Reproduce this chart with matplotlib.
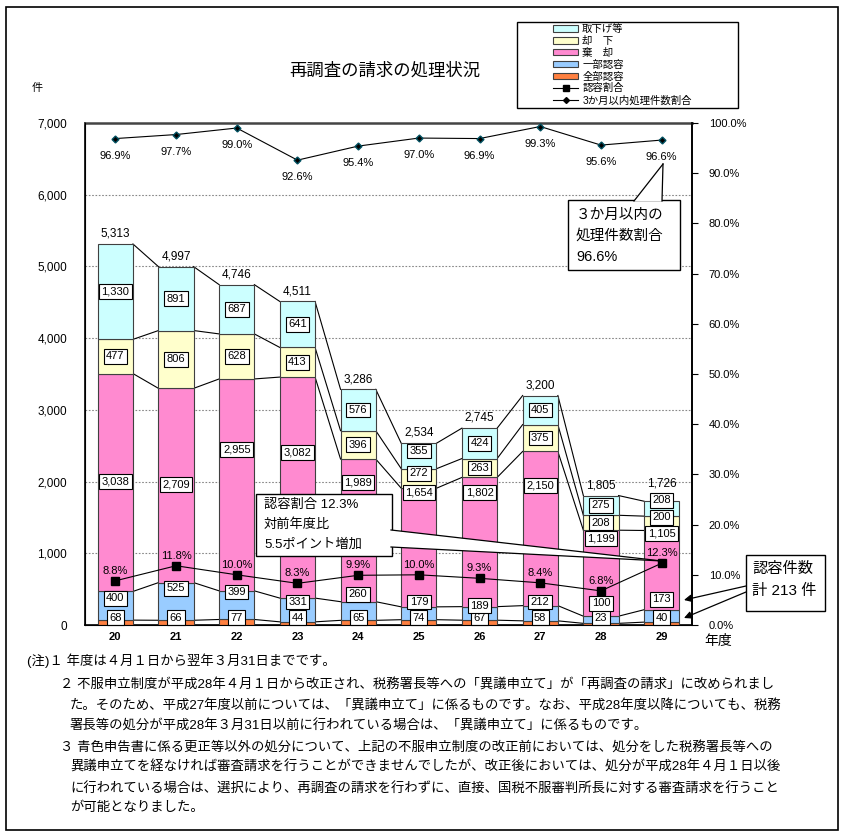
import matplotlib
matplotlib.use("Agg")
import matplotlib.pyplot as plt
from matplotlib.patches import Patch, Rectangle, Polygon, FancyArrowPatch
from matplotlib.lines import Line2D
import numpy as np

plt.rcParams['font.family'] = ['Liberation Sans', 'Noto Sans CJK JP', 'DejaVu Sans']

# data (件数は年度別)
years = ['20', '21', '22', '23', '24', '25', '26', '27', '28', '29']
zenbu = [68, 66, 77, 44, 65, 74, 67, 58, 23, 40]            # 全部認容
ichibu = [400, 525, 399, 331, 260, 179, 189, 212, 100, 173]  # 一部認容
kikyaku = [3038, 2709, 2955, 3082, 1989, 1654, 1802, 2150, 1199, 1105]  # 棄却
kyakka = [477, 806, 628, 413, 396, 272, 263, 375, 208, 200]  # 却下
torisage = [1330, 891, 687, 641, 576, 355, 424, 405, 275, 208]  # 取下げ等
totals = [5313, 4997, 4746, 4511, 3286, 2534, 2745, 3200, 1805, 1726]
ninyo_rate = [8.8, 11.8, 10.0, 8.3, 9.9, 10.0, 9.3, 8.4, 6.8, 12.3]
within3m_rate = [96.9, 97.7, 99.0, 92.6, 95.4, 97.0, 96.9, 99.3, 95.6, 96.6]

series = [
    ('全部認容', zenbu, '#FF8040'),
    ('一部認容', ichibu, '#99CCFF'),
    ('棄　却', kikyaku, '#FF8AD0'),
    ('却　下', kyakka, '#FFFFCC'),
    ('取下げ等', torisage, '#CCFFFF'),
]

# label placement (value units), hand tuned like the original
ichibu_lab_y = [370, 510, 460, 320, 430, 320, 270, 320, 300, 360]
kikyaku_lab_y = [2000, 1960, 2450, 2410, 1990, 1850, 1850, 1940, 1210, 1270]
extra_shift = {(3, 5): 75, (4, 5): 70, (3, 9): 85, (4, 9): 115}
total_shift = {9: 110}

W, H = 848, 834


def px(x, y):
    return (x / W, 1 - y / H)


fig = plt.figure(figsize=(W / 100, H / 100), dpi=100)
ax = fig.add_axes([85 / W, 1 - 625 / H, 607 / W, 502 / H])
ax2 = ax.twinx()

x = np.arange(len(years))
bw = 0.58
bottom = np.zeros(len(years))
levels = []
for k, (name, vals, col) in enumerate(series):
    vals = np.array(vals)
    ax.bar(x, vals, bw, bottom=bottom, color=col, edgecolor='#404040',
           linewidth=0.8, zorder=3)
    centers = bottom + vals / 2
    for i, v in enumerate(vals):
        if k == 0:
            ly = 100
        elif k == 1:
            ly = ichibu_lab_y[i]
        elif k == 2:
            ly = kikyaku_lab_y[i]
        else:
            ly = centers[i] + extra_shift.get((k, i), 0)
        ax.text(i, ly, f'{v:,}', ha='center', va='center', fontsize=8,
                zorder=6,
                bbox=dict(boxstyle='square,pad=0.22', fc='white', ec='black', lw=0.8))
    bottom = bottom + vals
    levels.append(bottom.copy())

# series lines between the bars
for lev in levels:
    for i in range(len(years) - 1):
        ax.plot([i + bw / 2, i + 1 - bw / 2], [lev[i], lev[i + 1]],
                color='black', lw=0.8, zorder=2)

for i, t in enumerate(totals):
    ax.text(i, t + 60 + total_shift.get(i, 0), f'{t:,}', ha='center', va='bottom',
            fontsize=8.5, zorder=7)

ax.set_xlim(-0.5, len(years) - 0.5)
ax.set_ylim(0, 7000)
ax.set_yticks(range(0, 7001, 1000))
ax.set_yticklabels([f'{v:,}' for v in range(0, 7001, 1000)], fontsize=8.5)
ax.set_xticks(x)
ax.set_xticklabels(years, fontsize=8, fontweight='bold')
ax.tick_params(axis='y', length=0, pad=13)
ax.tick_params(axis='x', length=0, pad=5)
for g in range(1000, 7000, 1000):
    ax.axhline(g, color='#888888', lw=0.8, ls=(0, (1.5, 1.5)), zorder=1)
ax.spines['top'].set_color('#444444')
ax.spines['top'].set_linewidth(1.8)
for s in ['left', 'right', 'bottom']:
    ax.spines[s].set_linewidth(1.2)

# percent lines on the right axis
ax2.set_ylim(0, 100)
ax2.set_yticks(range(0, 101, 10))
ax2.set_yticklabels([f'{v:.1f}%' for v in range(0, 101, 10)], fontsize=8)
ax2.tick_params(axis='y', length=4, pad=8)
ax2.spines['right'].set_linewidth(1.2)
ax2.spines['top'].set_visible(False)

ax2.plot(x, ninyo_rate, color='black', lw=0.8, marker='s', markersize=5.5,
         markerfacecolor='black', zorder=5)
for i, r in enumerate(ninyo_rate):
    ax2.text(i, r + 1.0, f'{r:.1f}%', ha='center', va='bottom', fontsize=8, zorder=5)

ax2.plot(x, within3m_rate, color='black', lw=0.8, marker='D', markersize=3.5,
         markerfacecolor='black', markeredgecolor='#005060', zorder=5)
for i, r in enumerate(within3m_rate):
    ax2.text(i, r - 2.4, f'{r:.1f}%', ha='center', va='top', fontsize=8, zorder=5)

# title, units
fig.text(*px(385, 70), '再調査の請求の処理状況', ha='center', va='center', fontsize=12.5)
fig.text(*px(37, 88), '件', ha='center', va='center', fontsize=8)
fig.text(*px(718, 641), '年度', ha='center', va='center', fontsize=10)

# legend
fig.add_artist(Rectangle(px(517, 108), 221 / W, 86 / H, transform=fig.transFigure,
                         fill=False, ec='black', lw=1.0))
handles = [Patch(fc=c, ec='#404040', lw=0.8) for _, _, c in series[::-1]]
handles += [Line2D([], [], color='black', lw=0.8, marker='s', markersize=4.5),
            Line2D([], [], color='black', lw=0.8, marker='D', markersize=3)]
labels = [n for n, _, _ in series[::-1]] + ['認容割合', '3か月以内処理件数割合']
fig.legend(handles, labels, loc='upper left', bbox_to_anchor=px(553, 24),
           frameon=False, fontsize=7.5, labelspacing=0.18, handlelength=2.4,
           handleheight=0.6, handletextpad=0.4, borderpad=0, borderaxespad=0)


def callout(box, base, tip, lines, fs, x_text, y_lines):
    x0, y0, x1, y1 = box
    fig.add_artist(Rectangle(px(x0, y1), (x1 - x0) / W, (y1 - y0) / H,
                             transform=fig.transFigure, fc='white', ec='black',
                             lw=1.0, zorder=10))
    (bx1, by1), (bx2, by2) = base
    fig.add_artist(Polygon([px(bx1, by1), px(bx2, by2), px(*tip)], closed=True,
                           transform=fig.transFigure, fc='white', ec='none', zorder=11))
    for bxy in base:
        fig.add_artist(Line2D([px(*bxy)[0], px(*tip)[0]], [px(*bxy)[1], px(*tip)[1]],
                              transform=fig.transFigure, color='black', lw=0.9, zorder=12))
    for t, yy in zip(lines, y_lines):
        fig.text(*px(x_text, yy), t, ha='left', va='center', fontsize=fs, zorder=13)


callout((568, 200, 680, 270), [(634, 201), (662, 201)], (663, 164),
        ['３か月以内の', '処理件数割合', '96.6%'], 10.5, 576, [215, 236, 257])
callout((256, 494, 392, 556), [(391, 530), (391, 547)], (662, 561),
        ['認容割合 12.3%', '対前年度比', '5.5ポイント増加'], 9.5, 264, [505, 525, 545])

fig.add_artist(Rectangle(px(746, 611), 79 / W, 56 / H, transform=fig.transFigure,
                         fc='white', ec='black', lw=1.0, zorder=10))
fig.text(*px(752, 569), '認容件数', ha='left', va='center', fontsize=11, zorder=13)
fig.text(*px(752, 591), '計 213 件', ha='left', va='center', fontsize=11, zorder=13)
for a, b in [((746, 586), (684, 600)), ((746, 592), (684, 618))]:
    fig.add_artist(FancyArrowPatch(px(*a), px(*b), transform=fig.transFigure,
                                   arrowstyle='-|>', mutation_scale=11, color='black',
                                   lw=0.9, shrinkA=0, shrinkB=0, zorder=12))

# notes
notes = [
    (27, 661, '(注)１ 年度は４月１日から翌年３月31日までです。'),
    (60, 685, '２ 不服申立制度が平成28年４月１日から改正され、税務署長等への「異議申立て」が「再調査の請求」に改められまし'),
    (70, 706, 'た。そのため、平成27年度以前については、「異議申立て」に係るものです。なお、平成28年度以降についても、税務'),
    (70, 726, '署長等の処分が平成28年３月31日以前に行われている場合は、「異議申立て」に係るものです。'),
    (60, 747, '３ 青色申告書に係る更正等以外の処分について、上記の不服申立制度の改正前においては、処分をした税務署長等への'),
    (70, 767, '異議申立てを経なければ審査請求を行うことができませんでしたが、改正後においては、処分が平成28年４月１日以後'),
    (70, 788, 'に行われている場合は、選択により、再調査の請求を行わずに、直接、国税不服審判所長に対する審査請求を行うこと'),
    (70, 808, 'が可能となりました。'),
]
for nx, ny, t in notes:
    fig.text(*px(nx, ny), t, ha='left', va='center', fontsize=9.6)

# outer frame
fig.add_artist(Rectangle(px(6, 830), 832 / W, 823 / H, transform=fig.transFigure,
                         fill=False, ec='black', lw=1.2))

fig.savefig('out.png', dpi=100)
